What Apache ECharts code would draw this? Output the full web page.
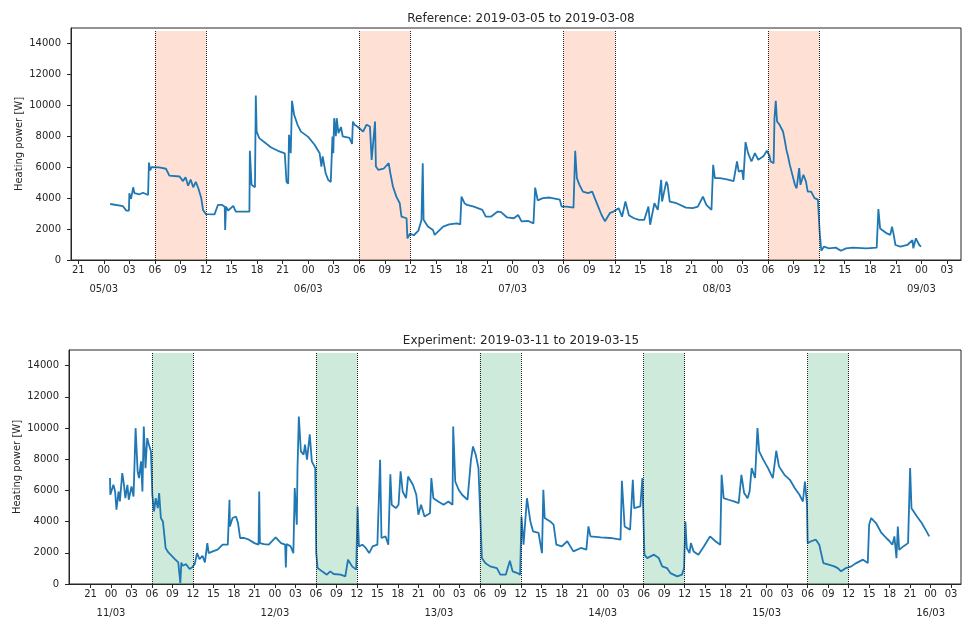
<!DOCTYPE html>
<html>
<head>
<meta charset="utf-8">
<script src="https://cdn.jsdelivr.net/npm/echarts@6/dist/echarts.min.js"></script>
<style>
  html, body { margin: 0; padding: 0; background: #fff; }
  #chart { width: 962px; height: 621px; }
</style>
</head>
<body>
<div id="chart"></div>
<script>
// hours since 00:00 of the first day, heating power in W
var refPoints = [
  [0.75, 3620], [0.85, 3500], [2.25, 3480], [2.65, 3190], [2.95, 3190], [3.0, 4320], [3.2, 3950],
  [3.45, 4700], [3.6, 4320], [4.2, 4250], [4.6, 4350], [5.2, 4200], [5.3, 6300], [5.45, 5800],
  [5.6, 6000], [5.8, 5900], [6.5, 5990], [7.3, 5900], [7.7, 5460], [8.9, 5400], [9.3, 5100],
  [9.6, 5350], [9.9, 4800], [10.2, 5200], [10.5, 4700], [10.8, 5050], [11.1, 4640], [11.45, 3990],
  [11.65, 3240], [12.0, 2960], [13.0, 2950], [13.4, 3560], [13.9, 3560], [14.2, 3450], [14.25, 1940],
  [14.35, 3450], [14.6, 3200], [15.2, 3500], [15.5, 3130], [17.1, 3130], [17.15, 7060], [17.35, 4860],
  [17.75, 4700], [17.85, 10640], [17.95, 8310], [18.25, 7880], [18.45, 7770], [19.65, 7270],
  [20.45, 7060], [21.25, 6900], [21.45, 5070], [21.65, 4930], [21.75, 8090], [21.95, 6900],
  [22.1, 10290], [22.35, 9390], [22.75, 8740], [23.15, 8300], [24.0, 7960], [24.75, 7450],
  [25.35, 6900], [25.55, 6040], [25.7, 6700], [26.05, 5610], [26.35, 5180], [26.65, 5040],
  [26.85, 7980], [26.95, 6900], [27.05, 9170], [27.25, 8000], [27.35, 9170], [27.55, 8200],
  [27.85, 8600], [28.05, 8000], [28.85, 7900], [29.15, 7500], [29.25, 8950], [29.45, 8750],
  [29.85, 8600], [30.45, 8300], [30.85, 8750], [31.25, 8630], [31.45, 6470], [31.85, 8950],
  [31.95, 6040], [32.25, 5820], [32.85, 5900], [33.45, 6260], [33.65, 5600], [33.95, 4750],
  [34.35, 4100], [34.75, 3670], [34.95, 2800], [35.55, 2700], [35.65, 1400], [35.95, 1700],
  [36.4, 1600], [36.95, 1900], [37.3, 2590], [37.45, 6260], [37.55, 2600], [38.05, 2160],
  [38.65, 1940], [38.85, 1620], [39.85, 2160], [40.55, 2300], [41.45, 2370], [41.85, 2300],
  [42.0, 4100], [42.35, 3670], [42.65, 3560], [43.45, 3450], [44.45, 3240], [44.85, 2800],
  [45.45, 2800], [46.25, 3130], [46.65, 3100], [47.35, 2750], [48.15, 2700], [48.65, 2910],
  [49.05, 2500], [49.85, 2520], [50.45, 2370], [50.65, 4680], [50.95, 3860], [51.15, 3780],
  [51.55, 4000], [52.35, 4040], [53.55, 3900], [53.75, 3450], [54.35, 3450], [55.15, 3380],
  [55.35, 7060], [55.55, 5290], [55.85, 4860], [56.25, 4420], [56.85, 4320], [57.35, 4420],
  [57.65, 4000], [58.05, 3450], [58.45, 2910], [58.85, 2500], [59.45, 3050], [59.85, 3130],
  [60.45, 3350], [60.85, 2800], [61.25, 3780], [61.65, 2900], [62.25, 2700], [62.85, 2590],
  [63.45, 2590], [63.95, 3450], [64.15, 2280], [64.65, 3670], [65.05, 3240], [65.45, 5180],
  [65.55, 3780], [66.05, 5070], [66.2, 4860], [66.45, 3780], [67.25, 3670], [68.35, 3390],
  [69.15, 3350], [69.75, 3450], [70.35, 4100], [70.75, 3560], [71.35, 3240], [71.55, 6150],
  [71.75, 5290], [72.35, 5290], [73.15, 5210], [73.95, 5100], [74.35, 6370], [74.55, 5710],
  [74.95, 5800], [75.1, 5180], [75.35, 7620], [75.65, 6910], [76.05, 6370], [76.45, 6910],
  [76.85, 6480], [77.45, 6700], [77.85, 7060], [78.15, 6760], [78.3, 6370], [78.65, 6260],
  [78.75, 9170], [78.9, 10290], [79.05, 8960], [79.35, 8740], [79.75, 8310], [79.95, 7770],
  [80.15, 7120], [80.35, 6690], [80.55, 6150], [80.85, 5510], [81.15, 4860], [81.35, 4640],
  [81.65, 5940], [81.8, 4860], [82.15, 5510], [82.45, 5070], [82.65, 4420], [83.05, 4420],
  [83.45, 4000], [83.85, 3900], [84.05, 1830], [84.25, 600], [84.55, 860], [85.15, 750],
  [85.95, 800], [86.55, 600], [87.15, 750], [87.95, 800], [89.55, 750], [90.75, 800],
  [90.95, 3300], [91.15, 2040], [91.95, 1720], [92.35, 1620], [92.55, 2160], [92.75, 1620],
  [92.95, 970], [93.55, 860], [94.35, 970], [94.95, 1290], [95.05, 750], [95.35, 1400],
  [95.75, 970], [95.95, 860]
];

var expPoints = [
  [-0.15, 6790], [-0.1, 5720], [0.35, 6360], [0.6, 5930], [0.8, 4760], [1.1, 5930], [1.3, 5290],
  [1.65, 7110], [1.9, 6360], [2.1, 5500], [2.4, 6360], [2.6, 5400], [3.0, 6250], [3.3, 5610],
  [3.6, 9990], [3.9, 7220], [4.1, 6790], [4.4, 7860], [4.6, 5930], [4.8, 10100], [5.05, 7430],
  [5.3, 9350], [5.55, 8930], [5.85, 8500], [6.05, 5720], [6.3, 4650], [6.55, 5500], [6.85, 4860],
  [7.05, 5830], [7.3, 4230], [7.6, 4010], [8.0, 2300], [8.4, 2020], [8.9, 1800], [9.35, 1590],
  [9.85, 1380], [10.15, 60], [10.3, 1380], [10.5, 1170], [11.0, 1270], [11.5, 960], [11.85, 1060],
  [12.25, 1270], [12.6, 1980], [12.95, 1590], [13.4, 1800], [13.75, 1380], [14.1, 2620],
  [14.3, 1980], [14.9, 2090], [15.6, 2200], [16.35, 2520], [17.1, 2520], [17.35, 5400],
  [17.4, 3690], [17.8, 4230], [18.3, 4330], [18.6, 3910], [18.9, 2950], [19.5, 2950], [20.2, 2840],
  [21.0, 2620], [21.6, 2520], [21.7, 5930], [21.8, 2620], [22.4, 2560], [23.1, 2520], [24.1, 2990],
  [24.9, 2620], [25.5, 2520], [25.6, 1060], [25.7, 2560], [26.3, 2410], [26.7, 1980], [26.9, 6150],
  [27.2, 3800], [27.3, 7330], [27.5, 10730], [27.8, 8500], [28.2, 8290], [28.4, 8930], [28.7, 7970],
  [29.1, 9600], [29.4, 7860], [29.9, 7430], [30.05, 1980], [30.25, 1020], [30.9, 810], [31.6, 600],
  [32.1, 810], [32.6, 640], [33.6, 600], [34.3, 490], [34.7, 1560], [35.3, 1130], [35.9, 920],
  [36.1, 4970], [36.3, 2410], [36.8, 2520], [37.3, 2310], [37.8, 1980], [38.3, 2410], [39.0, 2520],
  [39.4, 7960], [39.6, 2950], [40.2, 3050], [40.6, 2520], [40.9, 7040], [41.1, 5080], [41.7, 4860],
  [42.1, 5080], [42.4, 7220], [42.7, 5930], [43.2, 5500], [43.5, 6890], [44.2, 6360], [44.7, 5720],
  [45.0, 4440], [45.4, 5080], [45.9, 4330], [46.7, 4540], [46.9, 6790], [47.2, 5500], [47.9, 5290],
  [48.7, 5080], [49.4, 5290], [50.0, 5080], [50.1, 10090], [50.4, 6570], [50.9, 6040], [51.4, 5720],
  [52.2, 5400], [52.4, 5290], [52.7, 7960], [53.0, 8820], [53.4, 8290], [53.8, 7430], [54.0, 7330],
  [54.1, 4010], [54.3, 1660], [54.8, 1340], [55.5, 1130], [56.5, 1020], [57.0, 600], [57.8, 600],
  [58.4, 1490], [58.8, 810], [59.5, 700], [59.9, 600], [60.1, 4330], [60.4, 2520], [60.9, 5500],
  [61.4, 4010], [61.8, 3370], [62.6, 3270], [63.1, 1980], [63.3, 6040], [63.5, 4230], [64.3, 4010],
  [64.8, 3800], [65.2, 2520], [66.0, 2410], [66.8, 2740], [67.7, 2090], [68.8, 2310], [69.6, 2200],
  [69.9, 3690], [70.2, 3050], [71.7, 2990], [73.1, 2950], [74.6, 2840], [74.8, 6620], [75.2, 3690],
  [76.0, 3480], [76.4, 6680], [76.6, 4860], [77.5, 4970], [77.8, 6790], [78.1, 1880], [78.5, 1660],
  [79.5, 1880], [80.2, 1660], [80.7, 1130], [81.4, 1020], [81.9, 700], [82.9, 490], [83.6, 600],
  [83.9, 1020], [84.1, 4010], [84.3, 2310], [84.7, 1980], [84.9, 2620], [85.3, 2090], [86.0, 1880],
  [86.8, 2410], [87.7, 3050], [88.5, 2740], [89.2, 2520], [89.4, 7000], [89.7, 5500], [90.4, 5400],
  [91.2, 5290], [91.9, 5190], [92.3, 7000], [92.7, 5830], [93.2, 5500], [93.5, 5930], [93.8, 7430],
  [94.3, 6790], [94.65, 9990], [94.9, 8500], [95.5, 7970], [96.2, 7430], [96.9, 6790], [97.4, 8540],
  [97.8, 7540], [98.6, 7000], [99.4, 6680], [100.1, 6150], [100.8, 5720], [101.3, 5290], [101.6, 6570],
  [101.9, 5080], [102.0, 2620], [102.5, 2740], [103.2, 2840], [103.7, 2520], [104.3, 1340],
  [105.2, 1230], [105.9, 1130], [106.4, 1020], [106.9, 810], [107.6, 1020], [108.4, 1130],
  [109.1, 1340], [110.1, 1560], [110.8, 1340], [111.0, 3800], [111.3, 4230], [112.0, 3910],
  [112.8, 3270], [113.5, 2950], [114.0, 2740], [114.4, 2520], [114.7, 3050], [115.0, 1660],
  [115.2, 3690], [115.4, 2200], [116.0, 2410], [116.7, 2620], [117.0, 7430], [117.2, 4860],
  [118.0, 4330], [118.7, 3910], [119.4, 3370], [119.8, 3050]
];

// 06:00-12:00 windows, hours
var refSpans = [[6, 12], [30, 36], [54, 60], [78, 84]];
var expSpans = [[6, 12], [30, 36], [54, 60], [78, 84], [102, 108]];

var refTitle = 'Reference: 2019-03-05 to 2019-03-08';
var expTitle = 'Experiment: 2019-03-11 to 2019-03-15';
var yTicks = [0, 2000, 4000, 6000, 8000, 10000, 12000, 14000];
var refHourTicks = [];
for (var t = -3; t <= 99; t += 3) refHourTicks.push(t);
var expHourTicks = [];
for (var t2 = -3; t2 <= 123; t2 += 3) expHourTicks.push(t2);
var refDayTicks = [0, 24, 48, 72, 96];        // 05/03 .. 09/03
var expDayTicks = [0, 24, 48, 72, 96, 120];   // 11/03 .. 16/03

var font = 'DejaVu Sans';
var ink = '#262626';
var shadeTop = 14800;

function pad(n) { return (n < 10 ? '0' : '') + n; }

function hourAxis(idx, min, max, ticks) {
  return {
    type: 'value', gridIndex: idx, min: min, max: max,
    splitLine: { show: false },
    axisLine: { show: true, onZero: false, lineStyle: { color: ink, width: 1 } },
    axisTick: { show: true, length: 4, customValues: ticks, lineStyle: { color: ink } },
    axisLabel: {
      customValues: ticks,
      formatter: function (v) { return pad(((v % 24) + 24) % 24); },
      showMinLabel: true, showMaxLabel: true,
      fontFamily: font, fontSize: 10, color: ink, margin: 5
    }
  };
}

function dayAxis(idx, min, max, ticks, firstDay) {
  return {
    type: 'value', gridIndex: idx, min: min, max: max, position: 'bottom',
    splitLine: { show: false },
    axisLine: { show: false, onZero: false },
    axisTick: { show: false },
    axisLabel: {
      customValues: ticks,
      formatter: function (v) { return pad(firstDay + v / 24) + '/03'; },
      showMinLabel: true, showMaxLabel: true,
      fontFamily: font, fontSize: 10, color: ink, margin: 24
    }
  };
}

function yAxisFor(idx, gap) {
  return {
    type: 'value', gridIndex: idx, min: 0, max: 15000,
    name: 'Heating power [W]', nameLocation: 'middle', nameGap: gap, nameMoveOverlap: false,
    nameTextStyle: { fontFamily: font, fontSize: 10, color: ink },
    splitLine: { show: false },
    axisLine: { show: true, onZero: false, lineStyle: { color: ink, width: 1 } },
    axisTick: { show: true, length: 4, customValues: yTicks, lineStyle: { color: ink } },
    axisLabel: {
      customValues: yTicks, formatter: function (v) { return String(v); },
      fontFamily: font, fontSize: 10, color: ink, margin: 10
    }
  };
}

function shadeSeries(idx, spans, color) {
  var areas = spans.map(function (s) {
    return [{ xAxis: s[0], yAxis: 0 }, { xAxis: s[1], yAxis: shadeTop }];
  });
  var lines = [];
  spans.forEach(function (s) {
    [s[0], s[1]].forEach(function (x) {
      lines.push([{ coord: [x, 0] }, { coord: [x, shadeTop] }]);
    });
  });
  return {
    type: 'line', xAxisIndex: idx, yAxisIndex: idx, data: [], z: 5, silent: true,
    markArea: { silent: true, itemStyle: { color: color }, data: areas },
    markLine: {
      silent: true, symbol: 'none', label: { show: false },
      lineStyle: { color: '#222', type: 'dotted', width: 1 }, data: lines
    }
  };
}

function powerSeries(idx, points) {
  return {
    type: 'line', xAxisIndex: idx, yAxisIndex: idx, data: points, z: 3,
    showSymbol: false, symbol: 'none', sampling: 'none',
    lineStyle: { color: '#1f77b4', width: 1.8 }
  };
}

var chart = echarts.init(document.getElementById('chart'));
chart.setOption({
  animation: false,
  backgroundColor: '#fff',
  title: [
    { text: refTitle, left: 516, top: 8, textAlign: 'center',
      textStyle: { fontFamily: font, fontSize: 12, fontWeight: 'normal', color: ink } },
    { text: expTitle, left: 516, top: 330, textAlign: 'center',
      textStyle: { fontFamily: font, fontSize: 12, fontWeight: 'normal', color: ink } }
  ],
  grid: [
    { left: 71, top: 28, width: 890, height: 232, show: true, borderColor: ink, borderWidth: 1 },
    { left: 69, top: 350, width: 892, height: 234, show: true, borderColor: ink, borderWidth: 1 }
  ],
  xAxis: [
    hourAxis(0, -3.85, 100.65, refHourTicks),
    hourAxis(1, -6.15, 124.45, expHourTicks),
    dayAxis(0, -3.85, 100.65, refDayTicks, 5),
    dayAxis(1, -6.15, 124.45, expDayTicks, 11)
  ],
  yAxis: [yAxisFor(0, 47), yAxisFor(1, 47)],
  series: [
    powerSeries(0, refPoints),
    shadeSeries(0, refSpans, 'rgba(255,160,122,0.32)'),
    powerSeries(1, expPoints),
    shadeSeries(1, expSpans, 'rgba(60,170,110,0.25)')
  ]
});
</script>
</body>
</html>
